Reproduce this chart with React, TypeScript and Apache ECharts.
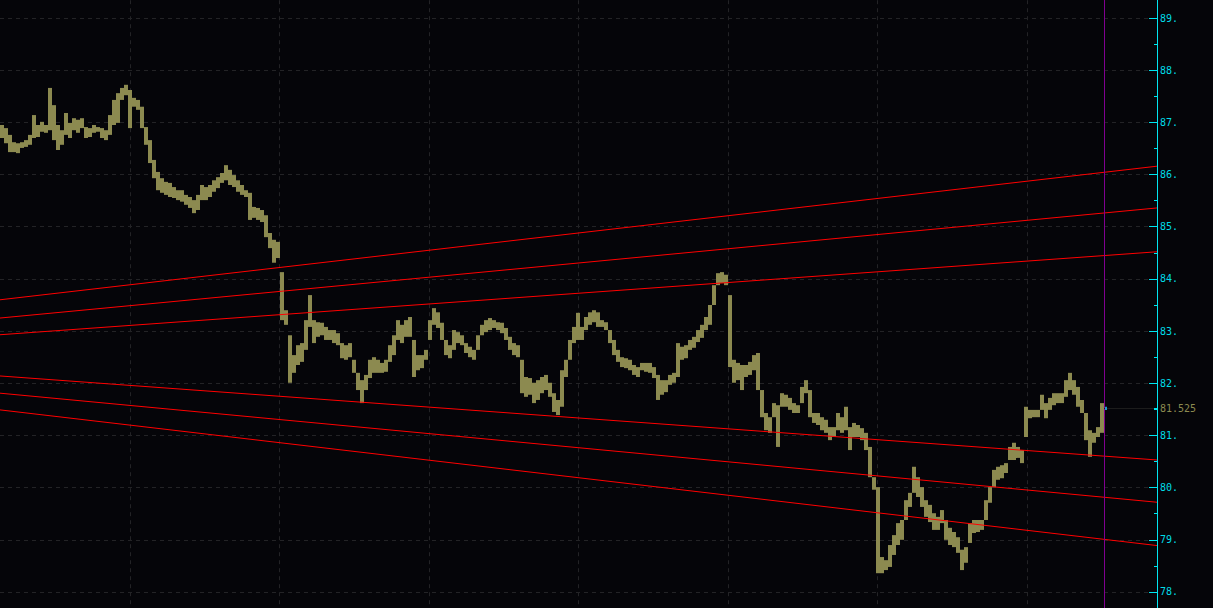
import React, { useEffect, useRef } from "react";
import * as echarts from "echarts";

// ---- data (prices) ----
const highs = [
  86.95, 86.89, 86.76, 86.62, 86.60, 86.62, 86.66, 86.76, 87.14, 86.95,
  87.01, 86.95, 87.66, 87.33, 86.95, 86.85, 87.18, 86.99, 87.08, 87.05,
  87.08, 86.91, 86.89, 86.95, 86.91, 86.89, 86.85, 87.14, 87.43, 87.56,
  87.66, 87.72, 87.62, 87.47, 87.43, 87.30, 86.91, 86.66, 86.28, 86.05,
  85.93, 85.86, 85.84, 85.76, 85.70, 85.70, 85.61, 85.57, 85.51, 85.61,
  85.80, 85.76, 85.80, 85.89, 85.95, 86.03, 86.18, 86.09, 85.99, 85.89,
  85.80, 85.70, 85.65, 85.38, 85.36, 85.32, 85.22, 84.88, 84.75, 84.71,
  84.13, 83.40, 82.92, 82.54, 82.73, 82.77, 83.21, 83.69, 83.21, 83.17,
  83.16, 83.08, 83.02, 83.02, 82.96, 82.77, 82.73, 82.77, 82.45, 82.20,
  82.06, 82.16, 82.45, 82.50, 82.45, 82.39, 82.45, 82.73, 82.92, 83.21,
  83.12, 83.21, 83.27, 82.83, 82.54, 82.54, 82.64, 83.21, 83.44, 83.36,
  83.16, 82.83, 82.73, 83.02, 82.98, 82.92, 82.77, 82.70, 82.64, 82.92,
  83.12, 83.21, 83.25, 83.21, 83.17, 83.16, 83.06, 82.89, 82.77, 82.73,
  82.45, 82.12, 82.10, 82.01, 82.06, 82.12, 82.16, 82.01, 81.81, 81.68,
  82.25, 82.45, 82.83, 83.08, 83.35, 83.08, 83.27, 83.36, 83.40, 83.36,
  83.21, 83.17, 83.02, 82.83, 82.64, 82.50, 82.48, 82.45, 82.35, 82.31,
  82.39, 82.39, 82.39, 82.31, 82.16, 82.06, 82.06, 82.16, 82.20, 82.77,
  82.70, 82.73, 82.83, 82.89, 83.02, 83.12, 83.27, 83.50, 83.88, 84.11,
  84.13, 84.08, 83.69, 82.45, 82.39, 82.35, 82.35, 82.41, 82.54, 82.58,
  81.87, 81.43, 81.35, 81.62, 81.58, 81.81, 81.78, 81.72, 81.62, 81.58,
  81.93, 82.06, 81.87, 81.43, 81.43, 81.35, 81.30, 81.16, 81.16, 81.43,
  81.35, 81.55, 81.16, 81.24, 81.20, 81.14, 81.05, 80.78, 80.20, 80.01,
  78.67, 78.61, 78.90, 79.09, 79.32, 79.38, 79.76, 79.90, 80.40, 80.20,
  80.01, 79.76, 79.67, 79.51, 79.44, 79.57, 79.38, 79.23, 79.15, 79.05,
  78.81, 78.86, 79.32, 79.38, 79.38, 79.38, 79.76, 80.01, 80.34, 80.40,
  80.43, 80.47, 80.78, 80.86, 80.78, 80.72, 81.55, 81.49, 81.49, 81.49,
  81.78, 81.62, 81.72, 81.81, 81.81, 81.81, 82.06, 82.20, 82.06, 81.93,
  81.68, 81.43, 81.10, 81.05, 81.16, 81.62,
];

const lows = [
  86.70, 86.60, 86.43, 86.43, 86.41, 86.51, 86.53, 86.57, 86.70, 86.72,
  86.82, 86.80, 86.85, 86.66, 86.47, 86.57, 86.76, 86.70, 86.85, 86.80,
  86.89, 86.70, 86.72, 86.80, 86.82, 86.70, 86.66, 86.76, 86.95, 86.99,
  87.43, 87.52, 86.89, 87.30, 87.24, 86.89, 86.57, 86.22, 85.93, 85.70,
  85.65, 85.61, 85.57, 85.55, 85.51, 85.48, 85.42, 85.36, 85.26, 85.32,
  85.51, 85.51, 85.57, 85.67, 85.74, 85.84, 85.89, 85.80, 85.76, 85.67,
  85.61, 85.57, 85.13, 85.17, 85.13, 85.09, 84.80, 84.59, 84.31, 84.40,
  83.21, 83.12, 82.01, 82.20, 82.35, 82.41, 82.64, 83.08, 82.77, 82.89,
  82.92, 82.83, 82.83, 82.77, 82.73, 82.48, 82.45, 82.50, 82.20, 81.87,
  81.62, 81.87, 82.10, 82.20, 82.20, 82.20, 82.22, 82.41, 82.54, 82.83,
  82.77, 82.89, 82.89, 82.12, 82.25, 82.29, 82.45, 82.83, 83.12, 83.06,
  82.83, 82.54, 82.48, 82.64, 82.77, 82.73, 82.58, 82.50, 82.45, 82.64,
  82.92, 82.98, 83.02, 83.06, 83.02, 82.96, 82.83, 82.64, 82.54, 82.50,
  81.81, 81.74, 81.78, 81.62, 81.68, 81.81, 81.87, 81.74, 81.45, 81.39,
  81.55, 82.12, 82.45, 82.77, 82.83, 82.83, 83.02, 83.12, 83.17, 83.08,
  83.08, 83.02, 82.77, 82.54, 82.41, 82.31, 82.29, 82.25, 82.16, 82.12,
  82.25, 82.22, 82.20, 82.10, 81.68, 81.78, 81.83, 81.97, 82.01, 82.12,
  82.45, 82.48, 82.64, 82.68, 82.79, 82.87, 83.02, 83.12, 83.50, 83.88,
  83.92, 83.88, 82.31, 82.01, 82.06, 81.87, 82.12, 82.16, 82.25, 81.87,
  81.35, 81.10, 81.05, 81.35, 80.78, 81.55, 81.55, 81.49, 81.43, 81.43,
  81.62, 81.81, 81.35, 81.24, 81.20, 81.10, 81.05, 80.91, 80.97, 81.10,
  81.05, 81.10, 80.72, 80.97, 80.97, 80.91, 80.72, 80.20, 79.96, 78.36,
  78.36, 78.42, 78.48, 78.71, 78.90, 79.00, 79.38, 79.63, 79.90, 79.82,
  79.63, 79.44, 79.34, 79.19, 79.19, 79.32, 79.00, 78.90, 78.86, 78.75,
  78.42, 78.56, 78.94, 79.13, 79.15, 79.19, 79.38, 79.71, 80.01, 80.15,
  80.18, 80.28, 80.53, 80.53, 80.57, 80.47, 80.97, 81.33, 81.35, 81.35,
  81.49, 81.33, 81.49, 81.58, 81.62, 81.62, 81.74, 81.87, 81.78, 81.55,
  81.43, 80.91, 80.59, 80.86, 80.97, 81.05,
];

// current (live) bar
const lastLow = 81.49;
const lastHigh = 81.55;
const lastPrice = 81.525;

// trend lines: value at the left edge and at the right edge of the plot
const trendStarts = [83.60, 83.25, 82.93, 82.14, 81.81, 81.49];
const trendEnds = [86.16, 85.36, 84.52, 80.53, 79.72, 78.89];

// session separators (bar index positions) and the cursor
const sessionBreaks = [32, 69.4, 106.75, 144, 181.5, 218.75, 256.25];
const cursorIndex = 275.5;

const X_MIN = -0.5;
const X_MAX = 288.75;
const Y_MIN = 77;
const Y_MAX = 90;

const BG = "#050509";
const BAR = "#8c8a50";
const AXIS = "#00e6f0";
const GRIDLINE = "#232326";

export default function App() {
  const ref = useRef<HTMLDivElement>(null);

  useEffect(() => {
    const chart = echarts.init(ref.current as HTMLDivElement, null, { renderer: "svg" });
    const bars = highs.map((h, i) => [i, lows[i], h]);
    const live = [[highs.length, lastLow, lastHigh]];

    const renderBar = (color: string, w: number) => (params: any, api: any) => {
      const x = api.value(0);
      const top = api.coord([x, api.value(2)]);
      const bot = api.coord([x, api.value(1)]);
      return {
        type: "rect",
        shape: {
          x: Math.round(top[0] - w / 2),
          y: top[1],
          width: w,
          height: Math.max(1, bot[1] - top[1]),
        },
        style: { fill: color },
      };
    };

    const trendSeries = trendStarts.map((s, k) => ({
      type: "line",
      data: [
        [X_MIN, s],
        [X_MAX, trendEnds[k]],
      ],
      symbol: "none",
      silent: true,
      z: 4,
      lineStyle: { color: "#ff0000", width: 1 },
    }));

    const option: any = {
      animation: false,
      backgroundColor: BG,
      grid: {
        left: 0,
        right: 56,
        top: -34.18,
        bottom: -36.18,
        containLabel: false,
        outerBoundsMode: "none",
      },
      xAxis: {
        type: "value",
        min: X_MIN,
        max: X_MAX,
        show: false,
        axisLine: { show: false, onZero: false },
        splitLine: { show: false },
      },
      yAxis: {
        type: "value",
        position: "right",
        min: Y_MIN,
        max: Y_MAX,
        interval: 1,
        axisLine: { show: true, onZero: false, lineStyle: { color: AXIS, width: 1 } },
        axisTick: { show: true, inside: true, length: 8, lineStyle: { color: AXIS, width: 1 } },
        minorTick: { show: true, splitNumber: 2, length: 3, lineStyle: { color: AXIS, width: 1 } },
        axisLabel: {
          color: "#00dce8",
          fontFamily: "DejaVu Sans Mono",
          fontSize: 10,
          margin: 3,
          formatter: (v: number) => (v <= Y_MIN || v >= Y_MAX ? "" : `${v}.`),
        },
        splitLine: { show: true, lineStyle: { color: GRIDLINE, width: 1, type: [4, 4] } },
      },
      series: [
        {
          type: "line",
          data: [],
          silent: true,
          z: 1,
          markLine: {
            silent: true,
            symbol: ["none", "none"],
            z: 1,
            label: { show: false },
            lineStyle: { color: GRIDLINE, width: 1, type: [4, 4] },
            data: sessionBreaks.map((b) => ({ xAxis: b })),
          },
        },
        {
          type: "custom",
          renderItem: renderBar(BAR, 4),
          data: bars,
          clip: true,
          z: 3,
          encode: { x: 0, y: [1, 2] },
          silent: true,
        },
        ...trendSeries,
        {
          type: "line",
          data: [],
          silent: true,
          z: 5,
          markLine: {
            silent: true,
            symbol: ["none", "none"],
            z: 5,
            data: [
              {
                xAxis: cursorIndex,
                label: { show: false },
                lineStyle: { color: "#800090", width: 1, type: "solid" },
              },
              [
                {
                  coord: [cursorIndex, lastPrice],
                  lineStyle: { color: "#1c1c1c", width: 1, type: "solid" },
                  label: {
                    show: true,
                    position: "end",
                    distance: 3,
                    formatter: () => lastPrice.toFixed(3),
                    color: BAR,
                    fontFamily: "DejaVu Sans Mono",
                    fontSize: 10,
                  },
                },
                { coord: [X_MAX, lastPrice] },
              ],
              [
                {
                  coord: [X_MAX - 0.75, lastPrice],
                  lineStyle: { color: AXIS, width: 1, type: "solid" },
                  label: { show: false },
                },
                { coord: [X_MAX, lastPrice] },
              ],
            ],
          },
        },
        {
          type: "custom",
          renderItem: renderBar("#2098d0", 2),
          data: live,
          clip: true,
          z: 6,
          encode: { x: 0, y: [1, 2] },
          silent: true,
        },
      ],
    };

    chart.setOption(option);
    return () => chart.dispose();
  }, []);

  return (
    <div
      ref={ref}
      style={{ position: "absolute", left: 0, top: 0, width: 1213, height: 608, background: BG }}
    />
  );
}
